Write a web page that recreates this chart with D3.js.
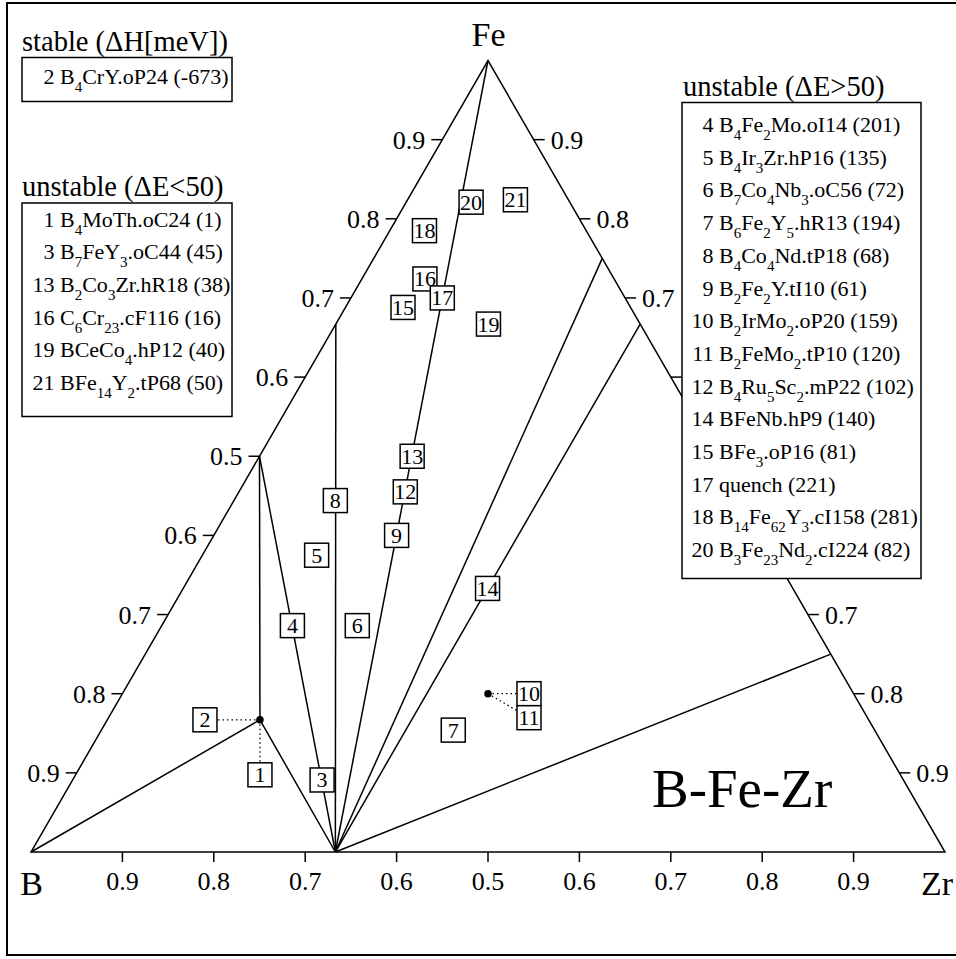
<!DOCTYPE html>
<html><head><meta charset="utf-8">
<script src="https://cdn.jsdelivr.net/npm/d3@7"></script>
<style>
body{margin:0;background:#fff}
#c text, #c tspan{font-family:"Liberation Serif","Tinos","Times New Roman","Nimbus Roman","FreeSerif",serif !important}
</style>
</head><body>
<svg id="c" width="956" height="959"></svg>
<script>
// ---------- DATA ----------
const elements = ["B", "Fe", "Zr"];
const systemName = "B-Fe-Zr";
const tickValues = [0.1, 0.2, 0.3, 0.4, 0.5, 0.6, 0.7, 0.8, 0.9];
const tickLabels = ["0.9", "0.8", "0.7", "0.6", "0.5", "0.6", "0.7", "0.8", "0.9"];
// hull phases (xB, xFe, xZr)
const hullNames = ["B", "Fe", "Zr", "BFe", "BFe2", "B4FeZr", "B2Zr", "Fe3Zr", "Fe2Zr", "FeZr3"];
const hullComps = [[1,0,0],[0,1,0],[0,0,1],[0.5,0.5,0],[0.333,0.667,0],[0.667,0.167,0.167],[0.667,0,0.333],[0,0.75,0.25],[0,0.667,0.333],[0,0.25,0.75]];
const tieLines = [["B","B4FeZr"],["BFe","B4FeZr"],["B4FeZr","B2Zr"],["BFe","B2Zr"],["BFe2","B2Zr"],["Fe","B2Zr"],["Fe3Zr","B2Zr"],["Fe2Zr","B2Zr"],["FeZr3","B2Zr"]];
// labelled prototypes: id and composition (xB, xFe, xZr)
const labelIds = [1,2,3,4,5,6,7,8,9,10,11,12,13,14,15,16,17,18,19,20,21];
const labelComps = [
 [0.667,0.167,0.167],[0.667,0.167,0.167],[0.636,0.091,0.273],[0.571,0.286,0.143],
 [0.5,0.375,0.125],[0.5,0.286,0.214],[0.462,0.154,0.385],[0.444,0.444,0.111],
 [0.4,0.4,0.2],[0.4,0.2,0.4],[0.4,0.2,0.4],[0.364,0.455,0.182],
 [0.333,0.5,0.167],[0.333,0.333,0.333],[0.25,0.688,0.063],[0.207,0.724,0.069],
 [0.2,0.7,0.1],[0.177,0.785,0.038],[0.167,0.667,0.167],[0.107,0.821,0.071],[0.059,0.824,0.118]];
const dotComps = [[0.667,0.167,0.167],[0.4,0.2,0.4]];
// legends
const stableTitle = "stable (\u0394H[meV])";
const stableIds = [2];
const stableNames = ["B_{4}CrY.oP24"];
const stableVals = [-673];
const lowTitle = "unstable (\u0394E<50)";
const lowIds = [1,3,13,16,19,21];
const lowNames = ["B_{4}MoTh.oC24","B_{7}FeY_{3}.oC44","B_{2}Co_{3}Zr.hR18","C_{6}Cr_{23}.cF116","BCeCo_{4}.hP12","BFe_{14}Y_{2}.tP68"];
const lowVals = [1,45,38,16,40,50];
const highTitle = "unstable (\u0394E>50)";
const highIds = [4,5,6,7,8,9,10,11,12,14,15,17,18,20];
const highNames = ["B_{4}Fe_{2}Mo.oI14","B_{4}Ir_{3}Zr.hP16","B_{7}Co_{4}Nb_{3}.oC56","B_{6}Fe_{2}Y_{5}.hR13","B_{4}Co_{4}Nd.tP18","B_{2}Fe_{2}Y.tI10","B_{2}IrMo_{2}.oP20","B_{2}FeMo_{2}.tP10","B_{4}Ru_{5}Sc_{2}.mP22","BFeNb.hP9","BFe_{3}.oP16","quench","B_{14}Fe_{62}Y_{3}.cI158","B_{3}Fe_{23}Nd_{2}.cI224"];
const highVals = [201,135,72,194,68,61,159,120,102,140,81,221,281,82];

// ---------- LAYOUT ----------
const FONT = '"Liberation Serif", "Tinos", "Times New Roman", serif';
const labelOffsets = {1:[0,55],2:[-55,0],10:[41,0],11:[41,24]};
const boxes = {
  stable:[22,57.5,210,44], low:[22,203,210,213.5], high:[682,102.5,239,476]
};
const svg = d3.select("#c");
const sx = d3.scaleLinear().domain([0,1]).range([31,945]);
const sy = d3.scaleLinear().domain([0,1]).range([852,60.5]);
const P = c => [sx(c[2] + c[1]/2), sy(c[1])];
const hull = {}; hullNames.forEach((n,i)=>hull[n]=hullComps[i]);
const inBox = (x,y) => Object.values(boxes).some(b=>x>=b[0]-2&&x<=b[0]+b[2]&&y>=b[1]&&y<=b[1]+b[3]);
function txt(parent, x, y, size, s, anchor){
  return parent.append("text")
    .attr("font-family","Liberation Serif")
    .style("font-family", FONT, "important")
    .attr("x",x).attr("y",y).attr("font-size",size).attr("text-anchor",anchor||"start").text(s);
}

svg.append("rect").attr("x",7).attr("y",3).attr("width",970).attr("height",952)
  .attr("fill","none").attr("stroke","#000").attr("stroke-width",2);

const g = svg.append("g");
g.append("path").attr("d", d3.line()([P([1,0,0]),P([0,1,0]),P([0,0,1])]) + "Z")
  .attr("fill","none").attr("stroke","#000").attr("stroke-width",1.5);

// ticks
const tk = g.append("g").attr("stroke","#000").attr("stroke-width",1.5);
const tf = 26;
tickValues.forEach((t,i)=>{
  let p = P([1-t,0,t]);
  tk.append("line").attr("x1",p[0]).attr("y1",p[1]).attr("x2",p[0]).attr("y2",p[1]+10);
  txt(g, p[0], p[1]+38, tf, tickLabels[i], "middle");
  p = P([1-t,t,0]);
  tk.append("line").attr("x1",p[0]).attr("y1",p[1]).attr("x2",p[0]-11).attr("y2",p[1]);
  txt(g, p[0]-17, p[1]+9, tf, tickLabels[i], "end");
  p = P([0,1-t,t]);
  tk.append("line").attr("x1",p[0]).attr("y1",p[1]).attr("x2",p[0]+11).attr("y2",p[1]);
  if (!inBox(p[0]+18, p[1])) txt(g, p[0]+17, p[1]+9, tf, tickLabels[tickValues.length-1-i], "start");
});

// tie lines
g.append("g").selectAll("line").data(tieLines).join("line")
  .attr("x1",d=>P(hull[d[0]])[0]).attr("y1",d=>P(hull[d[0]])[1])
  .attr("x2",d=>P(hull[d[1]])[0]).attr("y2",d=>P(hull[d[1]])[1])
  .attr("stroke","#000").attr("stroke-width",1.5);

// labels
const labels = labelIds.map((id,i)=>{
  const p = P(labelComps[i]); const o = labelOffsets[id]||[0,0];
  return {id, px:p[0], py:p[1], lx:p[0]+o[0], ly:p[1]+o[1], off:!!labelOffsets[id]};
});
g.append("g").selectAll("line").data(labels.filter(d=>d.off)).join("line")
  .attr("x1",d=>d.px).attr("y1",d=>d.py).attr("x2",d=>d.lx).attr("y2",d=>d.ly)
  .attr("stroke","#000").attr("stroke-width",1.3).attr("stroke-dasharray","1.5,3");
g.append("g").selectAll("circle").data(dotComps).join("circle")
  .attr("cx",d=>P(d)[0]).attr("cy",d=>P(d)[1]).attr("r",3.8).attr("fill","#000");
labels.forEach(d=>{
  const lg = g.append("g").attr("transform",`translate(${d.lx},${d.ly})`);
  lg.append("rect").attr("x",-12).attr("y",-12).attr("width",24).attr("height",24)
    .attr("fill","#fff").attr("stroke","#000").attr("stroke-width",1.5);
  txt(lg, 0, 7.5, 22, d.id, "middle");
});

// legends
function formula(sel, s){
  const parts = s.split(/(_\{[^}]*\})/).filter(x=>x.length);
  let sub=false;
  parts.forEach(p=>{
    if(p.startsWith("_{")){
      sel.append("tspan").attr("font-size",15).attr("dy",8).text(p.slice(2,-1));
      sub=true;
    } else {
      sel.append("tspan").attr("dy",sub?-8:0).text(p); sub=false;
    }
  });
  return sub;
}
function legend(title, ids, names, vals, box, tx, ty, fx, y0, dy){
  svg.append("rect").attr("x",box[0]).attr("y",box[1]).attr("width",box[2]).attr("height",box[3])
    .attr("fill","#fff").attr("stroke","#000").attr("stroke-width",1.5);
  txt(svg, tx, ty, 28.5, title);
  ids.forEach((id,i)=>{
    const y = y0 + i*dy;
    txt(svg, fx-5.5, y, 22, id, "end");
    const t = txt(svg, fx, y, 22, "");
    const endSub = formula(t, names[i]);
    t.append("tspan").attr("dy", endSub?-8:0).text(" ("+vals[i]+")");
  });
}
legend(stableTitle, stableIds, stableNames, stableVals, boxes.stable, 22, 51, 60, 83.5, 32.7);
legend(lowTitle, lowIds, lowNames, lowVals, boxes.low, 22, 196, 60, 226.5, 32.7);
legend(highTitle, highIds, highNames, highVals, boxes.high, 683, 96, 719, 132, 32.7);

// vertex labels
txt(svg, P([1,0,0])[0]+0.5, 895, 34, elements[0], "middle");
txt(svg, P([0,1,0])[0]+0.5, 46, 34, elements[1], "middle");
txt(svg, 921, 895, 34, elements[2], "start");
txt(svg, 652, 807, 55, systemName, "start");
</script>
</body></html>
